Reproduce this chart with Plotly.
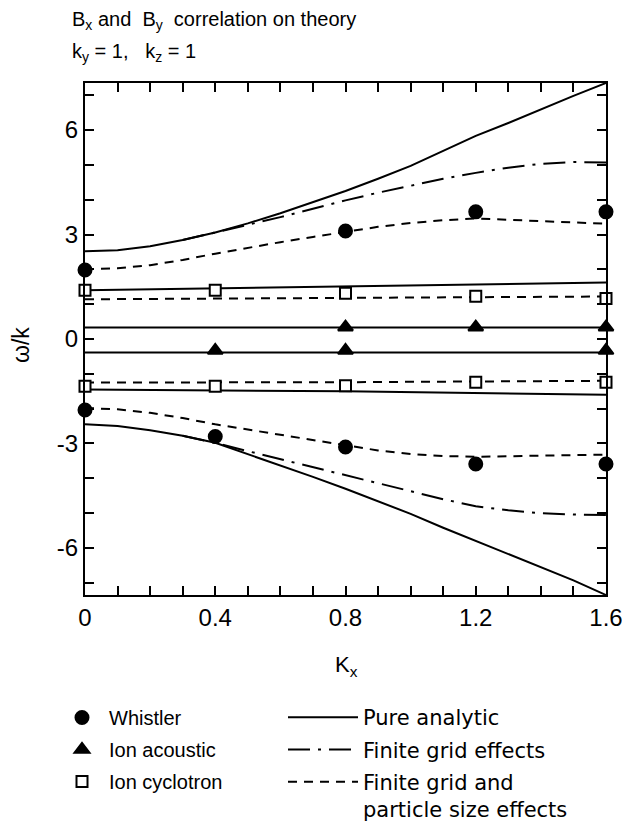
import plotly.graph_objects as go

# ---------------- data ----------------
kx_curve = [0.0, 0.1, 0.2, 0.3, 0.4, 0.5, 0.6, 0.7, 0.8, 0.9, 1.0, 1.1, 1.2, 1.3, 1.4, 1.5, 1.6]

# Whistler branch, pure analytic (solid)
pure_up = [2.52, 2.55, 2.66, 2.84, 3.06, 3.32, 3.61, 3.92, 4.25, 4.6, 4.97, 5.4, 5.83, 6.2, 6.6, 6.98, 7.35]
pure_lo = [-2.45, -2.5, -2.62, -2.78, -2.98, -3.3, -3.63, -3.96, -4.3, -4.65, -5.02, -5.42, -5.8, -6.18, -6.55, -6.93, -7.35]

# Whistler branch, finite grid effects (dash-dot)
kx_grid = [0.3, 0.4, 0.5, 0.6, 0.7, 0.8, 0.9, 1.0, 1.1, 1.2, 1.3, 1.4, 1.5, 1.6]
grid_up = [2.84, 3.05, 3.28, 3.5, 3.75, 3.98, 4.2, 4.4, 4.6, 4.77, 4.92, 5.03, 5.08, 5.07]
grid_lo = [-2.78, -2.98, -3.22, -3.45, -3.7, -3.93, -4.15, -4.38, -4.6, -4.8, -4.92, -5.0, -5.04, -5.05]

# Whistler branch, finite grid and particle size effects (dashed)
part_up = [2.0, 2.03, 2.12, 2.27, 2.45, 2.62, 2.78, 2.93, 3.08, 3.22, 3.33, 3.41, 3.46, 3.42, 3.38, 3.34, 3.31]
part_lo = [-1.98, -2.02, -2.12, -2.27, -2.45, -2.6, -2.76, -2.92, -3.07, -3.2, -3.3, -3.36, -3.38, -3.37, -3.35, -3.33, -3.32]

# Ion cyclotron lines
kx_line = [0.0, 0.8, 1.6]
cyc_pure_up = [1.40, 1.50, 1.62]
cyc_pure_lo = [-1.45, -1.50, -1.60]
cyc_part_up = [1.14, 1.18, 1.22]
cyc_part_lo = [-1.25, -1.24, -1.20]

# Ion acoustic lines
ac_pure_up = [0.33, 0.33, 0.33]
ac_pure_lo = [-0.39, -0.39, -0.39]

# Simulation points
kx_wh_up = [0.0, 0.8, 1.2, 1.6]
wh_up = [1.98, 3.1, 3.65, 3.65]
kx_wh_lo = [0.0, 0.4, 0.8, 1.2, 1.6]
wh_lo = [-2.04, -2.8, -3.1, -3.59, -3.59]

kx_ac_up = [0.8, 1.2, 1.6]
ac_up = [0.34, 0.34, 0.34]
kx_ac_lo = [0.4, 0.8, 1.6]
ac_lo = [-0.33, -0.33, -0.33]

kx_cyc = [0.0, 0.4, 0.8, 1.2, 1.6]
cyc_up = [1.40, 1.40, 1.31, 1.23, 1.16]
cyc_lo = [-1.36, -1.36, -1.34, -1.24, -1.24]

x_ticks = [0, 0.4, 0.8, 1.2, 1.6]
x_ticktext = ["0", "0.4", "0.8", "1.2", "1.6"]
y_ticks = [-6, -3, 0, 3, 6]
y_ticktext = ["-6", "-3", "0", "3", "6"]

FONT = "Liberation Sans, Arial, sans-serif"
WIDE_FONT = "DejaVu Sans, Liberation Sans, sans-serif"
BLACK = "black"

fig = go.Figure()


def add_line(x, y, dash, name, show):
    fig.add_trace(go.Scatter(
        x=x, y=y, mode="lines", name=name,
        line=dict(color=BLACK, width=2, dash=dash),
        legend="legend2", legendgroup=name, showlegend=show,
        hoverinfo="skip",
    ))


SOLID = "solid"
DASHDOT = "22px,8px,3px,8px"
DASHED = "9px,7px"

add_line(kx_curve, pure_up, SOLID, "Pure analytic", True)
add_line(kx_curve, pure_lo, SOLID, "Pure analytic", False)
add_line(kx_line, cyc_pure_up, SOLID, "Pure analytic", False)
add_line(kx_line, cyc_pure_lo, SOLID, "Pure analytic", False)
add_line(kx_line, ac_pure_up, SOLID, "Pure analytic", False)
add_line(kx_line, ac_pure_lo, SOLID, "Pure analytic", False)

add_line(kx_grid, grid_up, DASHDOT, "Finite grid effects", True)
add_line(kx_grid, grid_lo, DASHDOT, "Finite grid effects", False)

PART = "Finite grid and<br>particle size effects"
add_line(kx_curve, part_up, DASHED, PART, True)
add_line(kx_curve, part_lo, DASHED, PART, False)
add_line(kx_line, cyc_part_up, DASHED, PART, False)
add_line(kx_line, cyc_part_lo, DASHED, PART, False)


def add_pts(x, y, symbol, fill, size, name, show):
    fig.add_trace(go.Scatter(
        x=x, y=y, mode="markers", name=name,
        marker=dict(symbol=symbol, size=size, color=fill,
                    line=dict(color=BLACK, width=2)),
        cliponaxis=False, legend="legend", legendgroup=name, showlegend=show,
        hoverinfo="skip",
    ))


add_pts(kx_wh_up, wh_up, "circle", BLACK, 13, "Whistler", True)
add_pts(kx_wh_lo, wh_lo, "circle", BLACK, 13, "Whistler", False)
add_pts(kx_ac_up, ac_up, "triangle-up", BLACK, 13, "Ion acoustic", True)
add_pts(kx_ac_lo, ac_lo, "triangle-up", BLACK, 13, "Ion acoustic", False)
add_pts(kx_cyc, cyc_up, "square", "white", 11, "Ion cyclotron", True)
add_pts(kx_cyc, cyc_lo, "square", "white", 11, "Ion cyclotron", False)

axis_common = dict(
    showline=True, linewidth=2, linecolor=BLACK, mirror="ticks",
    ticks="inside", ticklen=9, tickwidth=1.5, tickcolor=BLACK,
    showgrid=False, zeroline=False, ticklabeloverflow="allow", automargin=False,
    tickfont=dict(family=FONT, size=24, color=BLACK),
)

fig.update_xaxes(range=[0, 1.6], tickvals=x_ticks, ticktext=x_ticktext,
                 minor=dict(dtick=0.1, ticks="inside", ticklen=9, tickwidth=1.5,
                            tickcolor=BLACK, showgrid=False),
                 **axis_common)
fig.update_yaxes(range=[-7.35, 7.35], tickvals=y_ticks, ticktext=y_ticktext,
                 minor=dict(dtick=1, ticks="inside", ticklen=9, tickwidth=1.5,
                            tickcolor=BLACK, showgrid=False),
                 **axis_common)

W, H = 622, 838
L, R, T, B = 85, 16, 83, 243
pw, ph = W - L - R, H - T - B


def px(xp):
    return (xp - L) / pw


def py(yp):
    return (H - B - yp) / ph


annots = [
    dict(text="B<sub>x</sub> and  B<sub>y</sub>  correlation on theory",
         x=px(70), y=py(20), xanchor="left", yanchor="middle", size=20),
    dict(text="k<sub>y</sub> = 1,   k<sub>z</sub> = 1",
         x=px(70), y=py(52), xanchor="left", yanchor="middle", size=20),
    dict(text="K<sub>x</sub>", x=px(346), y=py(666), xanchor="center",
         yanchor="middle", size=22),
]
for a in annots:
    fig.add_annotation(text=a["text"], x=a["x"], y=a["y"], xref="paper", yref="paper",
                       xanchor=a["xanchor"], yanchor=a["yanchor"], showarrow=False,
                       font=dict(family=FONT, size=a["size"], color=BLACK))

fig.add_annotation(text="ω/k", x=px(21), y=py(345), xref="paper", yref="paper",
                   textangle=-90, showarrow=False, xanchor="center", yanchor="middle",
                   font=dict(family=FONT, size=23, color=BLACK))

fig.update_layout(
    width=W, height=H,
    margin=dict(l=L, r=R, t=T, b=B, pad=0, autoexpand=False),
    paper_bgcolor="white", plot_bgcolor="white",
    font=dict(family=FONT, color=BLACK),
    legend=dict(x=px(55), y=py(698), xanchor="left", yanchor="top",
                font=dict(family=FONT, size=20, color=BLACK),
                tracegroupgap=3, bgcolor="rgba(0,0,0,0)", itemwidth=44),
    legend2=dict(x=px(283), y=py(697), xanchor="left", yanchor="top",
                 font=dict(family=WIDE_FONT, size=21, color=BLACK),
                 tracegroupgap=2, bgcolor="rgba(0,0,0,0)",
                 itemwidth=70, valign="top"),
)

fig.write_html("out.html")
